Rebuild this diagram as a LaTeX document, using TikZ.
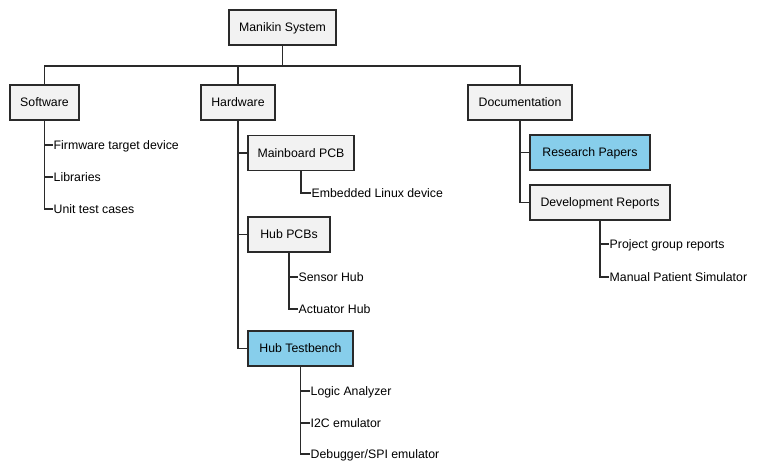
\documentclass[tikz,border=0pt]{standalone}
\usepackage{fontspec}
\setmainfont{Liberation Sans}
\definecolor{boxgray}{HTML}{F2F2F2}
\definecolor{boxblue}{HTML}{87CEEB}
\definecolor{edgec}{HTML}{2A2A2A}
\begin{document}
\begin{tikzpicture}[x=1pt,y=-1pt,
  box/.style={draw=edgec, fill=boxgray, line width=1.3pt, minimum height=35pt, inner sep=0pt, text height=8.8pt, text depth=0pt, font=\fontsize{12.3}{14}\selectfont},
  hl/.style={box, fill=boxblue},
  leaf/.style={inner xsep=0.5pt, inner ysep=0pt, anchor=west, text height=8.8pt, text depth=0pt, font=\fontsize{12.3}{14}\selectfont},
  conn/.style={draw=edgec, line width=1.3pt}]
\fill[white] (0,0) rectangle (761,474);
\useasboundingbox (0,0) rectangle (761,474);

% boxes
\node[box, minimum width=107pt] (root) at (282.5,27.5) {Manikin System};
\node[box, minimum width=69pt] (sw) at (44.5,102.5) {Software};
\node[box, minimum width=74pt] (hw) at (238,102.5) {Hardware};
\node[box, minimum width=104pt] (doc) at (520,102.5) {Documentation};
\node[box, minimum width=106pt] (mb) at (301,153) {Mainboard PCB};
\node[box, minimum width=82pt] (hubs) at (289,234.5) {Hub PCBs};
\node[hl, minimum width=105pt] (tb) at (300.5,348.5) {Hub Testbench};
\node[hl, minimum width=120pt] (rp) at (590,152.5) {Research Papers};
\node[box, minimum width=140pt] (dr) at (600,202.5) {Development Reports};

% leaves
\node[leaf] (fw) at (53,145) {Firmware target device};
\node[leaf] (lib) at (53,177) {Libraries};
\node[leaf] (utc) at (53,209) {Unit test cases};
\node[leaf] (eld) at (311,193) {Embedded Linux device};
\node[leaf] (sh) at (298,277) {Sensor Hub};
\node[leaf] (ah) at (298,309) {Actuator Hub};
\node[leaf] (la) at (310,391) {Logic Analyzer};
\node[leaf] (i2c) at (310,423) {I2C emulator};
\node[leaf] (dbg) at (310,454) {Debugger/SPI emulator};
\node[leaf] (pgr) at (609,244) {Project group reports};
\node[leaf] (mps) at (609,277) {Manual Patient Simulator};

% connectors
\coordinate (bus) at (282.5,66);
\draw[conn] (root.south) -- (bus);
\draw[conn] (bus) -| (sw.north);
\draw[conn] (bus) -| (hw.north);
\draw[conn] (bus) -| (doc.north);

\draw[conn] (sw.south) |- (fw.west);
\draw[conn] (sw.south) |- (lib.west);
\draw[conn] (sw.south) |- (utc.west);

\draw[conn] (hw.south) |- (mb.west);
\draw[conn] (hw.south) |- (hubs.west);
\draw[conn] (hw.south) |- (tb.west);

\draw[conn] (mb.south) |- (eld.west);
\draw[conn] (hubs.south) |- (sh.west);
\draw[conn] (hubs.south) |- (ah.west);
\draw[conn] (tb.south) |- (la.west);
\draw[conn] (tb.south) |- (i2c.west);
\draw[conn] (tb.south) |- (dbg.west);

\draw[conn] (doc.south) |- (rp.west);
\draw[conn] (doc.south) |- (dr.west);
\draw[conn] (dr.south) |- (pgr.west);
\draw[conn] (dr.south) |- (mps.west);
\end{tikzpicture}
\end{document}
